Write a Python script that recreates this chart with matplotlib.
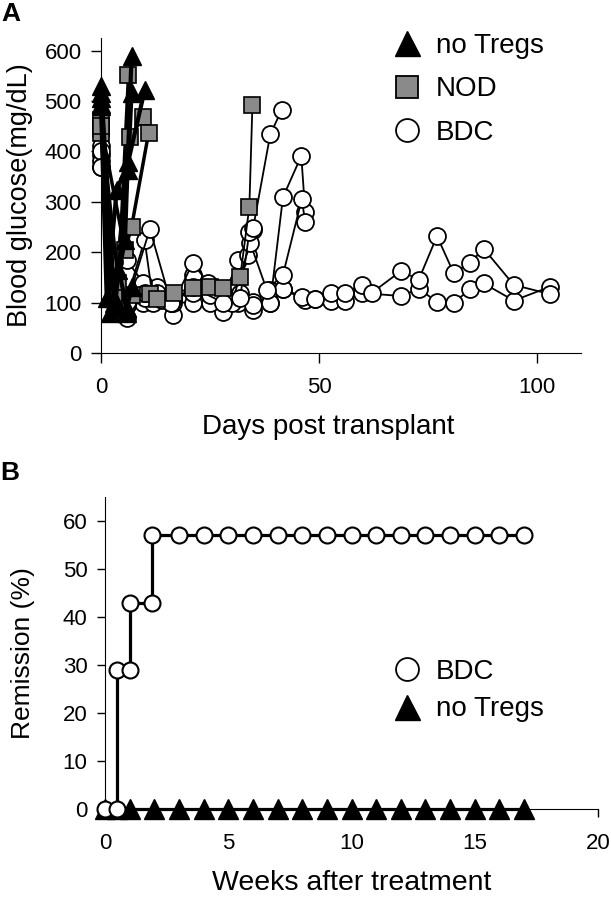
import matplotlib
matplotlib.use("Agg")
import matplotlib.pyplot as plt
from matplotlib.lines import Line2D

plt.rcParams['font.family'] = ['Liberation Sans', 'DejaVu Sans']

# ---- panel A : blood glucose per mouse ----
# no Tregs (triangles)
t1_day = [0, 3, 5.5, 7]
t1_glu = [530, 110, 224, 590]
t2_day = [0, 3.2, 6.2, 7]
t2_glu = [505, 90, 363, 516]
t3_day = [0, 1.3, 3.6, 6.2, 10]
t3_glu = [490, 110, 323, 378, 521]
t4_day = [0, 2, 4, 6, 7]
t4_glu = [515, 80, 165, 90, 130]
t5_day = [0, 3, 6]
t5_glu = [495, 100, 80]

# NOD (grey squares)
n1_day = [0, 4, 6.3]
n1_glu = [462, 138, 551]
n2_day = [0, 3, 6.6, 9.7]
n2_glu = [436, 110, 428, 468]
n3_day = [0, 5.5, 7, 10.9]
n3_glu = [450, 204, 250, 436]
n4_day = [0, 3, 7, 11.2, 12.8, 16.8, 21, 25, 28, 31.9, 34, 34.7]
n4_glu = [445, 120, 115, 118, 108, 120, 128, 131, 128, 151, 290, 492]

# BDC (open circles)
b1_day = [0, 2.8, 5.9, 9.7, 12.8, 16.6, 21, 24.6, 28, 31.9, 34.8, 38.8, 41.7,
          46.8, 49, 52.7, 56, 59.8, 68.8, 72.8, 77, 80.8, 84.6, 87.7, 94.6, 102.8]
b1_glu = [369, 165, 95, 100, 131, 75, 155, 110, 81, 105, 85, 100, 127,
          105, 107, 104, 104, 119, 113, 127, 102, 100, 126, 138, 104, 131]
b2_day = [0, 2.8, 5.9, 9.7, 12.8, 16.6, 21, 24.6, 28, 31.9, 34.8, 38.8, 41.7,
          46, 49, 52.7, 56, 59.8, 62, 68.8, 72.8, 77, 80.8, 84.6, 87.7, 94.6, 102.8]
b2_glu = [392, 184, 184, 139, 120, 100, 178, 139, 120, 120, 102, 124, 127,
          112, 107, 120, 120, 135, 119, 163, 145, 232, 159, 179, 207, 135, 117]
b3_day = [0, 2.8, 6, 10, 12, 16.6, 21, 25, 28, 31.5, 33.8, 34.8, 38.8, 41.4]
b3_glu = [410, 160, 110, 224, 100, 110, 120, 100, 110, 184, 194, 245, 434, 482]
b4_day = [0, 3, 6, 11.2, 16, 21, 25, 28, 31.5, 34.8, 38.8, 41.7, 45.9, 46.8]
b4_glu = [380, 150, 100, 246, 100, 100, 128, 110, 100, 95, 100, 309, 391, 280]
b5_day = [0, 3, 6, 10, 14, 21, 25, 30, 34.2, 38, 41.7, 46, 46.8]
b5_glu = [400, 120, 95, 110, 105, 120, 115, 100, 218, 125, 155, 305, 260]
b6_day = [0, 3, 6, 10, 16, 21, 28, 31.9, 34, 34.8]
b6_glu = [370, 180, 70, 120, 100, 130, 100, 110, 240, 248]

# ---- panel B : remission ----
bdc_wk = [0, 0.5, 0.5, 1, 1, 1.9, 1.9, 3, 4, 5, 6, 7, 8, 9, 10, 11, 12, 13, 14, 15, 16, 17]
bdc_rem = [0, 0, 29, 29, 43, 43, 57, 57, 57, 57, 57, 57, 57, 57, 57, 57, 57, 57, 57, 57, 57, 57]
notreg_wk = [0, 0.5, 1, 2, 3, 4, 5, 6, 7, 8, 9, 10, 11, 12, 13, 14, 15, 16, 17]
notreg_rem = [0] * len(notreg_wk)

fig = plt.figure(figsize=(6.11, 9.0), dpi=100)

axA = fig.add_axes([0.1653, 0.6078, 0.7856, 0.35])
for d, g in [(b1_day, b1_glu), (b2_day, b2_glu), (b3_day, b3_glu),
             (b4_day, b4_glu), (b5_day, b5_glu), (b6_day, b6_glu)]:
    axA.plot(d, g, '-o', color='black', lw=1.3, ms=12.2, mfc='white', mec='black',
             mew=1.3, clip_on=False)
for d, g in [(n4_day, n4_glu)]:
    axA.plot(d, g, '-s', color='black', lw=1.3, ms=11, mfc='#8a8a8a', mec='black',
             mew=1.2, clip_on=False)
for d, g in [(n1_day, n1_glu), (n2_day, n2_glu), (n3_day, n3_glu)]:
    axA.plot(d, g, '-s', color='black', lw=2.5, ms=11, mfc='#8a8a8a', mec='black',
             mew=1.2, clip_on=False)
for d, g in [(t1_day, t1_glu), (t2_day, t2_glu), (t3_day, t3_glu),
             (t4_day, t4_glu), (t5_day, t5_glu)]:
    axA.plot(d, g, '-^', color='black', lw=3, ms=13, mfc='black', mec='black',
             clip_on=False)

axA.set_xlim(0, 110)
axA.set_ylim(0, 625)
axA.set_xticks([0, 50, 100])
axA.set_yticks(range(0, 601, 100))
axA.spines['top'].set_visible(False)
axA.spines['right'].set_visible(False)
axA.tick_params(labelsize=16, length=7, width=1, direction='out')
axA.tick_params(axis='x', pad=10)
axA.tick_params(axis='y', pad=7)
axA.set_xlabel('Days post transplant', fontsize=20, labelpad=16)
axA.xaxis.set_label_coords(0.473, -0.195, transform=axA.transAxes)
axA.set_ylabel('Blood glucose(mg/dL)', fontsize=19.5, labelpad=8)

hA = [Line2D([], [], ls='none', marker='^', ms=18, mfc='black', mec='black'),
      Line2D([], [], ls='none', marker='s', ms=16, mfc='#8a8a8a', mec='black', mew=1.3),
      Line2D([], [], ls='none', marker='o', ms=16.5, mfc='white', mec='black', mew=1.3)]
axA.legend(hA, ['no Tregs', 'NOD', 'BDC'], loc='upper left', bbox_to_anchor=(0.608, 1.017),
           frameon=False, fontsize=20, handlelength=1.0, handletextpad=0.55,
           labelspacing=0.64, borderaxespad=0, borderpad=0)

axB = fig.add_axes([0.1718, 0.1011, 0.807, 0.3467])
axB.plot(bdc_wk, bdc_rem, '-o', color='black', lw=2.3, ms=11.5, mfc='white',
         mec='black', mew=1.5, clip_on=False, zorder=3)
axB.plot(notreg_wk, notreg_rem, '-^', color='black', lw=2.3, ms=14, mfc='black',
         mec='black', clip_on=False, zorder=2)
axB.set_xlim(0, 20)
axB.set_ylim(0, 65)
axB.set_xticks([0, 5, 10, 15, 20])
axB.set_yticks(range(0, 61, 10))
axB.spines['top'].set_visible(False)
axB.spines['right'].set_visible(False)
axB.tick_params(labelsize=16, length=6, width=1, direction='out')
axB.tick_params(axis='x', pad=11)
axB.tick_params(axis='y', pad=6.5)
axB.set_xlabel('Weeks after treatment', fontsize=20.5, labelpad=12)
axB.set_ylabel('Remission (%)', fontsize=19, labelpad=20)

hB = [Line2D([], [], ls='none', marker='o', ms=16.5, mfc='white', mec='black', mew=1.3),
      Line2D([], [], ls='none', marker='^', ms=18, mfc='black', mec='black')]
axB.legend(hB, ['BDC', 'no Tregs'], loc='upper left', bbox_to_anchor=(0.584, 0.482),
           frameon=False, fontsize=20, handlelength=1.0, handletextpad=0.55,
           labelspacing=0.42, borderaxespad=0, borderpad=0)

fig.text(0.003, 0.998, 'A', fontsize=19, fontweight='bold', va='top')
fig.text(0.0, 0.488, 'B', fontsize=19, fontweight='bold', va='top')

fig.savefig('out.png', dpi=100)
